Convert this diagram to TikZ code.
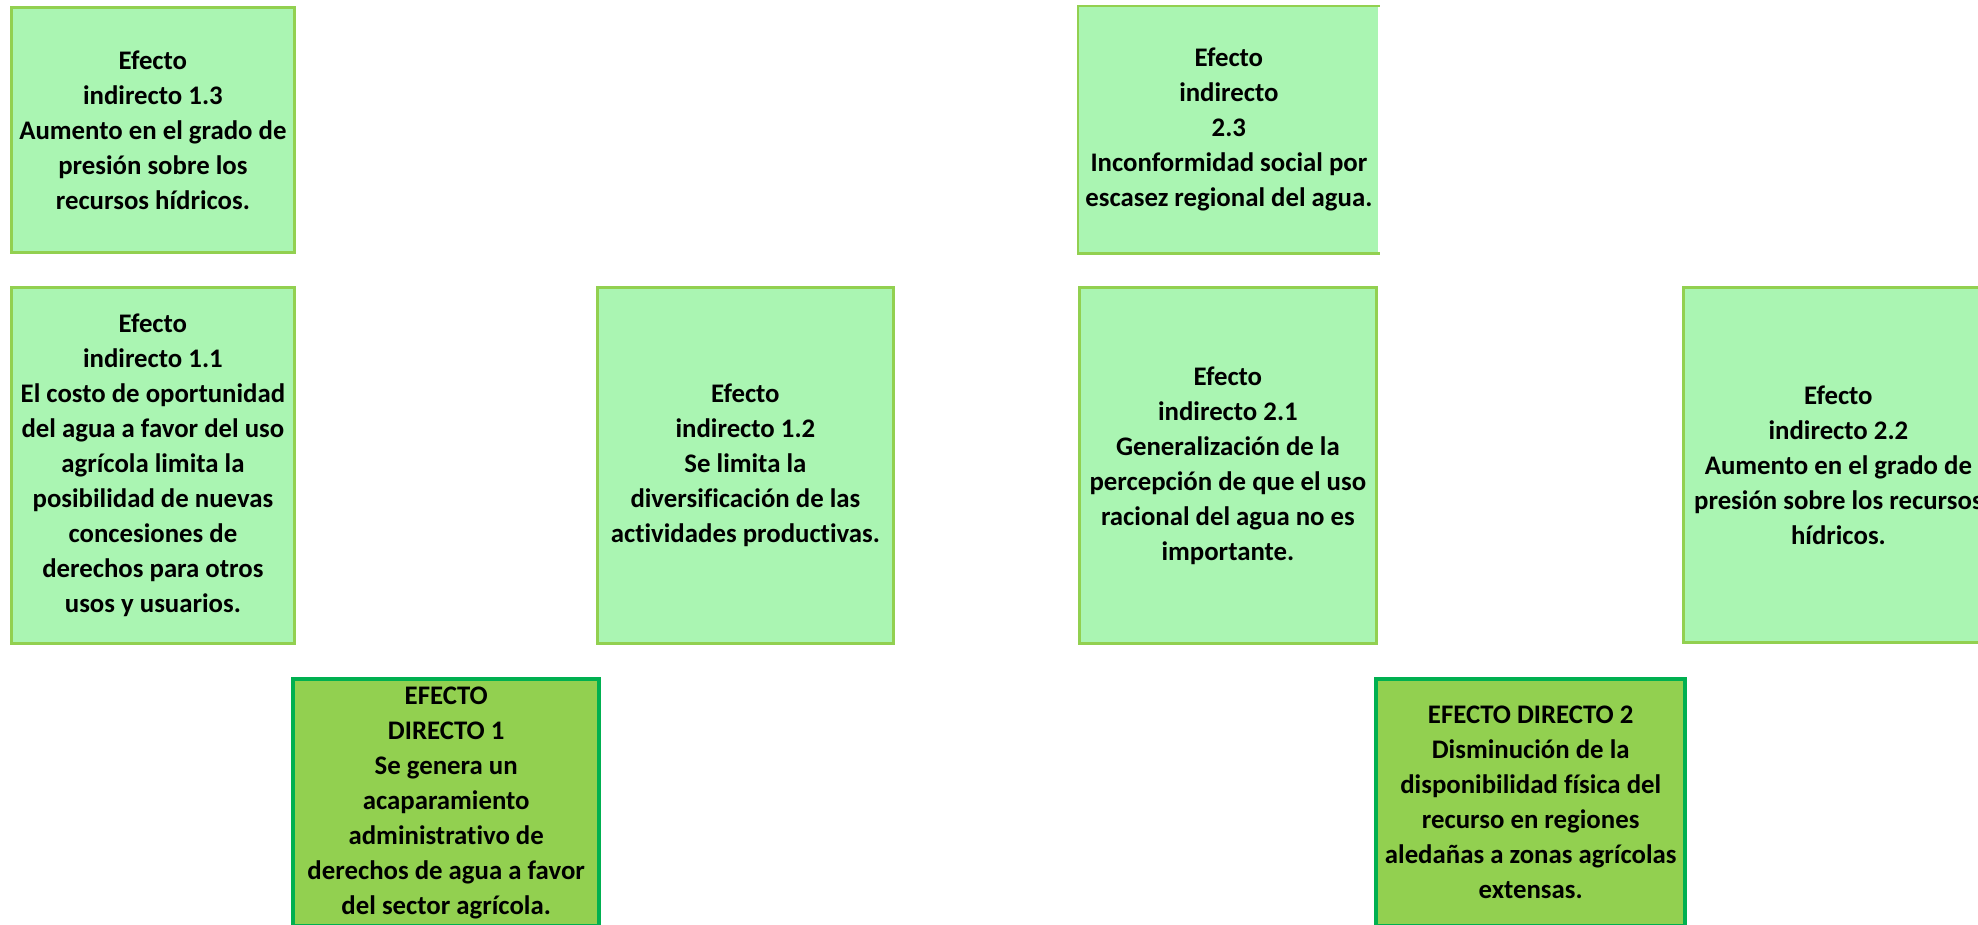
\documentclass[tikz,border=0pt]{standalone}
\usepackage{fontspec}
\setmainfont{Carlito}[Ligatures={NoCommon}]
\usetikzlibrary{positioning}
\definecolor{indfill}{RGB}{170,245,178}
\definecolor{indline}{RGB}{146,208,80}
\definecolor{dirfill}{RGB}{146,208,80}
\definecolor{dirline}{RGB}{0,176,80}

\begin{document}
\begin{tikzpicture}[
    x=0.5pt, y=-0.5pt,
    font=\fontsize{13.4pt}{17.5pt}\selectfont\bfseries,
    every node/.style={align=center, inner sep=0pt, anchor=north west},
    indir/.style={rectangle, draw=indline, line width=1.4pt, fill=indfill},
    direct/.style={rectangle, draw=dirline, line width=2.2pt, fill=dirfill},
    edge/.style={draw=indline, line width=1.4pt}
]
\useasboundingbox (0,0) rectangle (1978,925);
\clip (0,0) rectangle (1978,925);
% indirect effects, first cause
\node[indir, minimum width=141.5pt, minimum height=122.5pt] (ind13) at (10,6) {Efecto\\
    indirecto 1.3\\
    Aumento en el grado de\\
    presión sobre los\\
    recursos hídricos.};
\node[indir, minimum width=141.5pt, minimum height=178pt] (ind11) at (10,286) {Efecto\\
    indirecto 1.1\\
    El costo de oportunidad\\
    del agua a favor del uso\\
    agrícola limita la\\
    posibilidad de nuevas\\
    concesiones de\\
    derechos para otros\\
    usos y usuarios.};
\node[indir, minimum width=148pt, minimum height=178pt] (ind12) at (596,286) {Efecto\\
    indirecto 1.2\\
    Se limita la\\
    diversificación de las\\
    actividades productivas.};
% indirect effects, second cause
\node[indir, draw=none, minimum width=149.5pt, minimum height=122.5pt] (ind23) at (1078,6) {Efecto\\
    indirecto\\
    2.3\\
    Inconformidad social por\\
    escasez regional del agua.};
\node[indir, minimum width=148.5pt, minimum height=178pt] (ind21) at (1078,286) {Efecto\\
    indirecto 2.1\\
    Generalización de la\\
    percepción de que el uso\\
    racional del agua no es\\
    importante.};
\node[indir, minimum width=155pt, minimum height=177.5pt] (ind22) at (1682,286) {Efecto\\
    indirecto 2.2\\
    Aumento en el grado de\\
    presión sobre los recursos\\
    hídricos.};
% direct effects
\node[direct, minimum width=153pt, minimum height=123.5pt] (dir1) at (291,677) {EFECTO\\
    DIRECTO 1\\
    Se genera un\\
    acaparamiento\\
    administrativo de\\
    derechos de agua a favor\\
    del sector agrícola.};
\node[direct, minimum width=154.5pt, minimum height=123.5pt] (dir2) at (1374,677) {EFECTO DIRECTO 2\\
    Disminución de la\\
    disponibilidad física del\\
    recurso en regiones\\
    aledañas a zonas agrícolas\\
    extensas.};
\draw[edge] (ind23.north east) -- (ind23.north west) -- (ind23.south west) -- (ind23.south east);
\end{tikzpicture}
\end{document}
